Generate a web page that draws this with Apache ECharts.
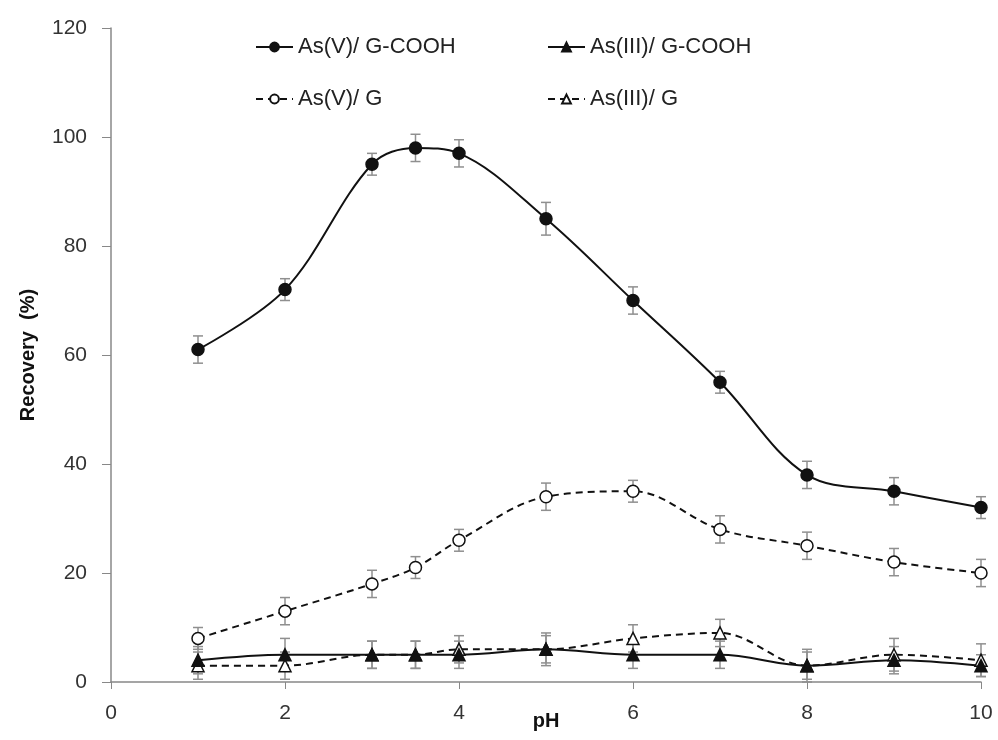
<!DOCTYPE html>
<html>
<head>
<meta charset="utf-8">
<script src="https://cdn.jsdelivr.net/npm/echarts@6/dist/echarts.min.js"></script>
<style>
  html, body { margin: 0; padding: 0; background: #fff; }
  #chart { width: 998px; height: 740px; }
</style>
</head>
<body>
<div id="chart"></div>
<script>
// pH values at which recovery was measured
const phValues = [1, 2, 3, 3.5, 4, 5, 6, 7, 8, 9, 10];

// Recovery (%) per sorbent / arsenic species
const asV_GCOOH   = [61, 72, 95, 98, 97, 85, 70, 55, 38, 35, 32];
const asV_G       = [8, 13, 18, 21, 26, 34, 35, 28, 25, 22, 20];
const asIII_GCOOH = [4, 5, 5, 5, 5, 6, 5, 5, 3, 4, 3];
const asIII_G     = [3, 3, 5, 5, 6, 6, 8, 9, 3, 5, 4];

// Standard deviations (error bars)
const errV_GCOOH   = [2.5, 2, 2, 2.5, 2.5, 3, 2.5, 2, 2.5, 2.5, 2];
const errV_G       = [2, 2.5, 2.5, 2, 2, 2.5, 2, 2.5, 2.5, 2.5, 2.5];
const errIII_GCOOH = [2.5, 3, 2.5, 2.5, 2.5, 2.5, 2.5, 2.5, 2.5, 2.5, 2];
const errIII_G     = [2.5, 2.5, 2.5, 2.5, 2.5, 3, 2.5, 2.5, 3, 3, 3];

const seriesNames = ['As(V)/ G-COOH', 'As(III)/ G-COOH', 'As(V)/ G', 'As(III)/ G'];

const FONT = '"Liberation Sans", Arial, sans-serif';
const pairs = (ys) => phValues.map((x, i) => [x, ys[i]]);

function errorBars(ys, errs) {
  return {
    type: 'custom',
    silent: true,
    z: 1,
    data: phValues.map((x, i) => [x, ys[i] - errs[i], ys[i] + errs[i]]),
    renderItem: function (params, api) {
      const lo = api.coord([api.value(0), api.value(1)]);
      const hi = api.coord([api.value(0), api.value(2)]);
      const half = 5;
      const style = { stroke: '#8f8f8f', lineWidth: 1.5 };
      return {
        type: 'group',
        children: [
          { type: 'line', shape: { x1: lo[0], y1: lo[1], x2: hi[0], y2: hi[1] }, style },
          { type: 'line', shape: { x1: lo[0] - half, y1: lo[1], x2: lo[0] + half, y2: lo[1] }, style },
          { type: 'line', shape: { x1: hi[0] - half, y1: hi[1], x2: hi[0] + half, y2: hi[1] }, style }
        ]
      };
    }
  };
}

function lineSeries(name, ys, opts) {
  return Object.assign({
    name,
    type: 'line',
    data: pairs(ys),
    smooth: 0.35,
    z: 3,
    symbolSize: 11,
    lineStyle: { color: '#111', width: 2, type: 'solid' },
    itemStyle: { color: '#111', borderColor: '#111', borderWidth: 1.5 }
  }, opts);
}

const legendText = { fontFamily: FONT, fontSize: 22, color: '#222' };

const chart = echarts.init(document.getElementById('chart'));
chart.setOption({
  animation: false,
  backgroundColor: '#fff',
  textStyle: { fontFamily: FONT },
  grid: { left: 111, right: 17, top: 28, bottom: 58, outerBoundsMode: 'none', containLabel: false },
  legend: [
    {
      data: [seriesNames[0], seriesNames[2]],
      orient: 'vertical', left: 250, top: 31, itemGap: 30,
      itemWidth: 37, itemHeight: 11,
      textStyle: legendText
    },
    {
      data: [seriesNames[1], seriesNames[3]],
      orient: 'vertical', left: 542, top: 31, itemGap: 30,
      itemWidth: 37, itemHeight: 11,
      textStyle: legendText
    }
  ],
  xAxis: {
    type: 'value', min: 0, max: 10, interval: 2,
    name: 'pH', nameLocation: 'middle', nameGap: 29, nameMoveOverlap: false,
    nameTextStyle: { fontFamily: FONT, fontSize: 20, fontWeight: 'bold', color: '#111' },
    axisLine: { lineStyle: { color: '#888', width: 1.5 } },
    axisTick: { show: true, length: 7, lineStyle: { color: '#888' } },
    axisLabel: { fontFamily: FONT, fontSize: 21, color: '#333', margin: 21 },
    splitLine: { show: false }
  },
  yAxis: {
    type: 'value', min: 0, max: 120, interval: 20,
    name: 'Recovery  (%)', nameLocation: 'middle', nameGap: 73, nameMoveOverlap: false,
    nameTextStyle: { fontFamily: FONT, fontSize: 20, fontWeight: 'bold', color: '#111' },
    axisLine: { show: true, lineStyle: { color: '#888', width: 1.5 } },
    axisTick: { show: true, length: 9, lineStyle: { color: '#888' } },
    axisLabel: { fontFamily: FONT, fontSize: 21, color: '#333', margin: 24 },
    splitLine: { show: false }
  },
  series: [
    errorBars(asV_GCOOH, errV_GCOOH),
    errorBars(asV_G, errV_G),
    errorBars(asIII_GCOOH, errIII_GCOOH),
    errorBars(asIII_G, errIII_G),
    lineSeries(seriesNames[3], asIII_G, {
      symbol: 'triangle', symbolSize: 12,
      lineStyle: { color: '#111', width: 2, type: [7, 5] },
      itemStyle: { color: '#fff', borderColor: '#111', borderWidth: 1.5 }
    }),
    lineSeries(seriesNames[1], asIII_GCOOH, { symbol: 'triangle', symbolSize: 12 }),
    lineSeries(seriesNames[2], asV_G, {
      symbol: 'circle', symbolSize: 12,
      lineStyle: { color: '#111', width: 2, type: [7, 5] },
      itemStyle: { color: '#fff', borderColor: '#111', borderWidth: 1.5 }
    }),
    lineSeries(seriesNames[0], asV_GCOOH, { symbol: 'circle', symbolSize: 12 })
  ]
});
</script>
</body>
</html>
